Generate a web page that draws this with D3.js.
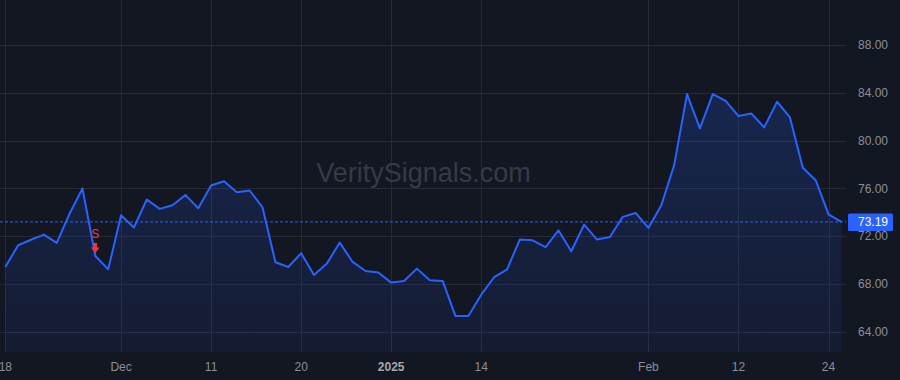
<!DOCTYPE html>
<html>
<head>
<meta charset="utf-8">
<script src="https://cdn.jsdelivr.net/npm/d3@7"></script>
<style>
  html, body { margin: 0; padding: 0; background: #131722; }
  svg { display: block; }
</style>
</head>
<body>
<svg id="chart" width="900" height="380"></svg>
<script>
const dates = [
  "2024-11-18","2024-11-19","2024-11-20","2024-11-21","2024-11-22","2024-11-25","2024-11-26","2024-11-27","2024-11-29",
  "2024-12-02","2024-12-03","2024-12-04","2024-12-05","2024-12-06","2024-12-09","2024-12-10","2024-12-11","2024-12-12",
  "2024-12-13","2024-12-16","2024-12-17","2024-12-18","2024-12-19","2024-12-20","2024-12-23","2024-12-24","2024-12-26",
  "2024-12-27","2024-12-30","2024-12-31",
  "2025-01-02","2025-01-03","2025-01-06","2025-01-07","2025-01-08","2025-01-10","2025-01-13","2025-01-14","2025-01-15",
  "2025-01-16","2025-01-17","2025-01-21","2025-01-22","2025-01-23","2025-01-24","2025-01-27","2025-01-28","2025-01-29",
  "2025-01-30","2025-01-31",
  "2025-02-03","2025-02-04","2025-02-05","2025-02-06","2025-02-07","2025-02-10","2025-02-11","2025-02-12","2025-02-13",
  "2025-02-14","2025-02-18","2025-02-19","2025-02-20","2025-02-21","2025-02-24","2025-02-25"
];
const prices = [
  69.42,71.24,71.70,72.13,71.43,73.89,75.99,70.34,69.22,
  73.75,72.72,75.07,74.28,74.59,75.45,74.34,76.24,76.60,
  75.68,75.82,74.40,69.81,69.42,70.57,68.75,69.70,71.46,
  69.84,69.08,68.95,
  68.11,68.25,69.28,68.30,68.25,65.31,65.31,67.10,68.56,
  69.20,71.71,71.65,71.07,72.49,70.73,72.97,71.71,71.93,
  73.61,73.94,
  72.69,74.59,77.94,83.89,81.02,83.89,83.33,82.05,82.27,
  81.10,83.25,81.94,77.72,76.68,73.83,73.19
];
const xTickDates = ["2024-11-18","2024-12-02","2024-12-11","2024-12-20","2025-01-02","2025-01-14","2025-02-03","2025-02-12","2025-02-24"];
const xTickLabels = ["18","Dec","11","20","2025","14","Feb","12","24"];
const boldTickLabels = ["2025"];
const yTickValues = [64, 68, 72, 76, 80, 84, 88];
const signalDates = ["2024-11-27"];
const signalTypes = ["S"];
const lastPrice = 73.19;
const watermark = "VeritySignals.com";

const W = 900, H = 380;
const plotRight = 846, plotBottom = 352;
const svg = d3.select("#chart");
const font = "Liberation Sans, Arial, Helvetica, sans-serif";
const textColor = "#8a8e99";
const gridColor = "#252a36";
const lineColor = "#2962ff";

svg.append("rect").attr("width", W).attr("height", H).attr("fill", "#131722");

const x = d3.scalePoint().domain(dates).range([5.3, 841.4]);
const y = d3.scaleLinear().domain([64, 88]).range([331.7, 45]);

// grid
const grid = svg.append("g");
grid.selectAll("line.h").data(yTickValues).join("line")
  .attr("x1", 0).attr("x2", plotRight)
  .attr("y1", d => Math.round(y(d)) + 0.5).attr("y2", d => Math.round(y(d)) + 0.5)
  .attr("stroke", gridColor).attr("stroke-width", 1);
grid.selectAll("line.v").data(xTickDates).join("line")
  .attr("x1", d => Math.round(x(d)) + 0.5).attr("x2", d => Math.round(x(d)) + 0.5)
  .attr("y1", 0).attr("y2", plotBottom)
  .attr("stroke", gridColor).attr("stroke-width", 1);

// watermark
svg.append("text").attr("x", 423.5).attr("y", 182)
  .attr("text-anchor", "middle").attr("font-family", font).attr("font-size", 27)
  .attr("fill", "#363a47").text(watermark);

// area gradient
const defs = svg.append("defs");
const grad = defs.append("linearGradient").attr("id", "areaGrad")
  .attr("gradientUnits", "userSpaceOnUse")
  .attr("x1", 0).attr("x2", 0).attr("y1", y(d3.max(prices))).attr("y2", plotBottom);
grad.append("stop").attr("offset", 0).attr("stop-color", lineColor).attr("stop-opacity", 0.2);
grad.append("stop").attr("offset", 1).attr("stop-color", lineColor).attr("stop-opacity", 0.07);

const pts = dates.map((d, i) => ({ d, v: prices[i] }));
svg.append("path").datum(pts)
  .attr("d", d3.area().x(p => x(p.d)).y0(plotBottom).y1(p => y(p.v)))
  .attr("fill", "url(#areaGrad)");

// last price dashed line
svg.append("line").attr("x1", 0).attr("x2", plotRight)
  .attr("y1", y(lastPrice)).attr("y2", y(lastPrice))
  .attr("stroke", lineColor).attr("stroke-width", 1).attr("stroke-dasharray", "3,2");

// main line
svg.append("path").datum(pts)
  .attr("d", d3.line().x(p => x(p.d)).y(p => y(p.v)))
  .attr("fill", "none").attr("stroke", lineColor).attr("stroke-width", 2)
  .attr("stroke-linejoin", "round");

// signal markers
signalDates.forEach((sd, k) => {
  const i = dates.indexOf(sd);
  const cx = x(sd), py = y(prices[i]);
  const g = svg.append("g").attr("fill", "#f23645");
  g.append("text").attr("x", cx).attr("y", py - 17.5)
    .attr("text-anchor", "middle").attr("font-family", font).attr("font-size", 12)
    .text(signalTypes[k]);
  g.append("rect").attr("x", cx - 1.7).attr("y", py - 13).attr("width", 3.4).attr("height", 5);
  g.append("path").attr("d", `M${cx - 4.3},${py - 8.5} L${cx + 4.3},${py - 8.5} L${cx},${py - 3} Z`);
});

// y axis labels
const yAxis = svg.append("g");
yAxis.selectAll("text").data(yTickValues).join("text")
  .attr("x", 858).attr("y", d => y(d)).attr("dy", "0.35em")
  .attr("font-family", font).attr("font-size", 12).attr("fill", textColor)
  .text(d => d3.format(".2f")(d));

// last price label
const ly = y(lastPrice);
svg.append("rect").attr("x", 848).attr("y", ly - 8.5).attr("width", 45).attr("height", 17.5)
  .attr("rx", 1.5).attr("fill", lineColor);
svg.append("text").attr("x", 858).attr("y", ly).attr("dy", "0.35em")
  .attr("font-family", font).attr("font-size", 12).attr("fill", "#ffffff")
  .text(d3.format(".2f")(lastPrice));

// x axis labels
const xAxis = svg.append("g");
xAxis.selectAll("text").data(xTickDates).join("text")
  .attr("x", d => x(d)).attr("y", 371)
  .attr("text-anchor", "middle").attr("font-family", font).attr("font-size", 12)
  .attr("fill", (d, i) => boldTickLabels.includes(xTickLabels[i]) ? "#a3a6af" : textColor)
  .attr("font-weight", (d, i) => boldTickLabels.includes(xTickLabels[i]) ? "bold" : "normal")
  .text((d, i) => xTickLabels[i]);
</script>
</body>
</html>
